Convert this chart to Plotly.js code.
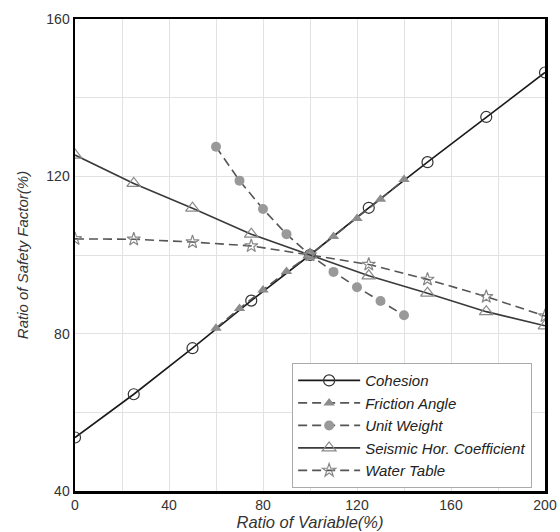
<!DOCTYPE html>
<html>
<head>
<meta charset="utf-8">
<script src="https://cdn.plot.ly/plotly-3.0.1.min.js"></script>
<style>html,body{margin:0;padding:0;background:#fff;}#chart{width:560px;height:532px;}</style>
</head>
<body>
<div id="chart"></div>
<script>
const xFull = [0, 25, 50, 75, 100, 125, 150, 175, 200];
const xPart = [60, 70, 80, 90, 100, 110, 120, 130, 140];
const cohesion = [53.6, 64.6, 76.3, 88.4, 100, 112.0, 123.6, 135.1, 146.4];
const frictionAngle = [81.4, 86.4, 91.1, 95.8, 100, 104.7, 109.3, 114.2, 119.2];
const unitWeight = [127.5, 118.9, 111.7, 105.3, 100, 95.7, 91.8, 88.3, 84.7];
const seismic = [125.4, 118.2, 111.9, 105.3, 100, 94.7, 90.3, 85.6, 82.0];
const waterTable = [104.1, 104.0, 103.3, 102.3, 100, 97.6, 93.8, 89.4, 84.5];

const dashStyle = '9px,5px';
const traces = [
  {x: xFull, y: cohesion, name: 'Cohesion', mode: 'lines+markers',
   line: {color: '#1a1a1a', width: 1.6},
   marker: {symbol: 'circle-open', size: 11, color: '#333', line: {width: 1.2}}},
  {x: xPart, y: frictionAngle, name: 'Friction Angle', mode: 'lines+markers',
   line: {color: '#555', width: 1.6, dash: dashStyle},
   marker: {symbol: 'triangle-up', size: 10, color: '#8c8c8c'}},
  {x: xPart, y: unitWeight, name: 'Unit Weight', mode: 'lines+markers',
   line: {color: '#555', width: 1.6, dash: dashStyle},
   marker: {symbol: 'circle', size: 10, color: '#999'}},
  {x: xFull, y: seismic, name: 'Seismic Hor. Coefficient', mode: 'lines+markers',
   line: {color: '#3a3a3a', width: 1.6},
   marker: {symbol: 'triangle-up-open', size: 12, color: '#888', line: {width: 1.2}}},
  {x: xFull, y: waterTable, name: 'Water Table', mode: 'lines+markers',
   line: {color: '#555', width: 1.6, dash: dashStyle},
   marker: {symbol: 'star-open', size: 10, color: '#888', line: {width: 1.2}}}
];

const layout = {
  width: 560, height: 532,
  margin: {l: 75, r: 15, t: 19, b: 41},
  paper_bgcolor: '#fff', plot_bgcolor: '#fff',
  font: {family: 'Liberation Sans, Arial, sans-serif', color: '#333', size: 13},
  showlegend: true,
  xaxis: {
    range: [0, 200], dtick: 40, tick0: 0, ticks: '',
    showgrid: true, gridcolor: '#e2e2e2', gridwidth: 1,
    minor: {dtick: 20, showgrid: true, gridcolor: '#e2e2e2', gridwidth: 1},
    showline: true, mirror: true, linecolor: '#000', linewidth: 2.5,
    zeroline: false,
    tickfont: {size: 14, color: '#333'},
    title: {text: 'Ratio of Variable(%)', standoff: 0,
            font: {size: 16.5, style: 'italic', color: '#333'}}
  },
  yaxis: {
    range: [40, 160], dtick: 40, tick0: 40, ticks: '',
    showgrid: true, gridcolor: '#e2e2e2', gridwidth: 1,
    minor: {dtick: 20, showgrid: true, gridcolor: '#e2e2e2', gridwidth: 1},
    showline: true, mirror: true, linecolor: '#000', linewidth: 2.5,
    zeroline: false,
    tickfont: {size: 14, color: '#333'},
    title: {text: 'Ratio of Safety Factor(%)', standoff: 14,
            font: {size: 15, style: 'italic', color: '#333'}}
  },
  legend: {
    x: 0.462, y: 0.006, xanchor: 'left', yanchor: 'bottom',
    bgcolor: '#fff', bordercolor: '#aaa', borderwidth: 1,
    font: {size: 15, style: 'italic', color: '#222'},
    itemwidth: 62, tracegroupgap: 0
  }
};

Plotly.newPlot('chart', traces, layout, {staticPlot: true, displayModeBar: false});
</script>
</body>
</html>
